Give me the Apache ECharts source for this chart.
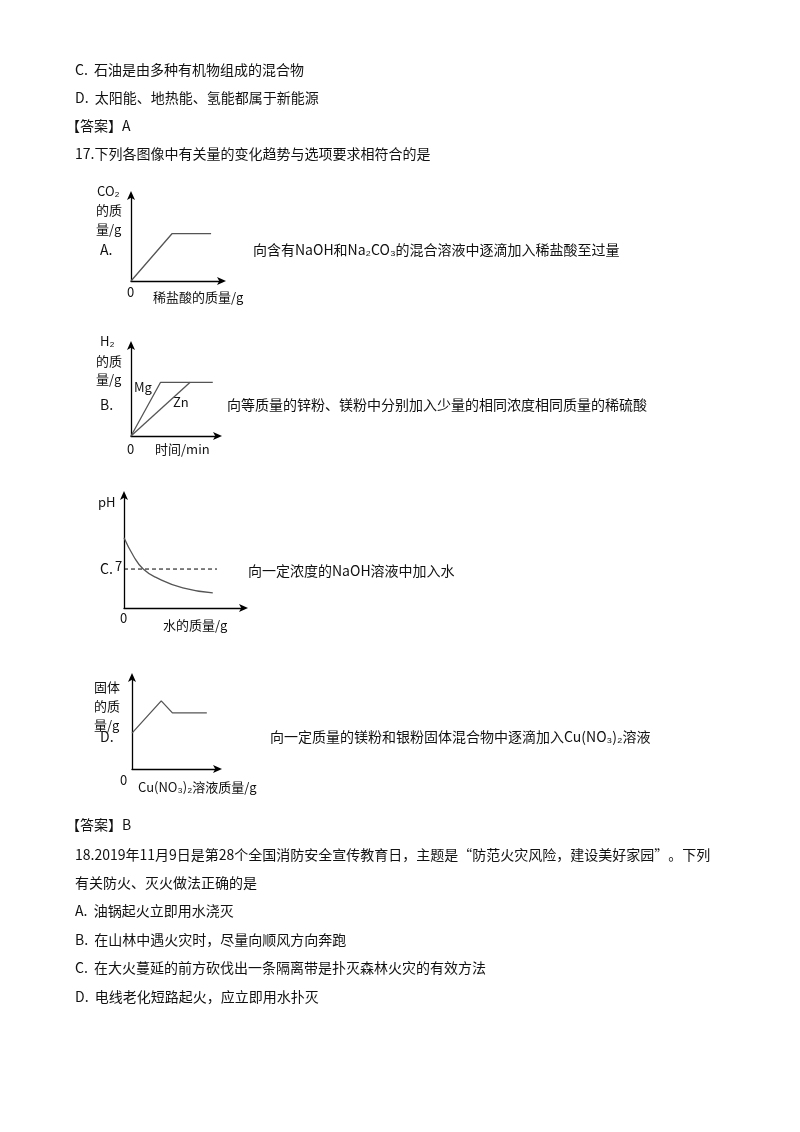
<!DOCTYPE html><html><head><meta charset="utf-8">
<script src="https://cdn.jsdelivr.net/npm/echarts@6/dist/echarts.min.js"></script>
<style>html,body{margin:0;background:#fff}#c{width:800px;height:1132px}</style></head><body><div id="c"></div>
<script>
const lineA=[[0,0],[4.5,5.5],[8.8,5.5]];
const lineMg=[[0,0],[3.4,5.9],[9.4,5.9]];
const lineZn=[[0,0],[6.8,5.9]];
const curvePH=[[0,12.6],[0.8,9.3],[1.6,7],[2.75,5.4],[4.9,3.6],[7.4,2.7]];
const linePH7=[[0,7],[7.75,7]];
const lineD=[[0,3.9],[3.4,7.4],[4.7,6.1],[8.7,6.1]];
const grids=[[131,195,91,86,10,10],[131,345,87,91,10,10],[124,495,120,113,10,20.3],[132,677,86,92,10,10]];
const texts=[
[75,73,'C.  石油是由多种有机物组成的混合物'],
[75,101,'D.  太阳能、地热能、氢能都属于新能源'],
[66,129,'【答案】A'],
[75,157,'17.下列各图像中有关量的变化趋势与选项要求相符合的是'],
[100,253,'A.'],[253,253,'向含有NaOH和Na₂CO₃的混合溶液中逐滴加入稀盐酸至过量'],
[100,408,'B.'],[227,408,'向等质量的锌粉、镁粉中分别加入少量的相同浓度相同质量的稀硫酸'],
[100,572,'C.'],[248,574,'向一定浓度的NaOH溶液中加入水'],
[100,740,'D.'],[270,740,'向一定质量的镁粉和银粉固体混合物中逐滴加入Cu(NO₃)₂溶液'],
[66,828,'【答案】B'],
[75,858,'18.2019年11月9日是第28个全国消防安全宣传教育日，主题是“防范火灾风险，建设美好家园”。下列'],
[75,886,'有关防火、灭火做法正确的是'],
[75,914,'A.  油锅起火立即用水浇灭'],
[75,943,'B.  在山林中遇火灾时，尽量向顺风方向奔跑'],
[75,971,'C.  在大火蔓延的前方砍伐出一条隔离带是扑灭森林火灾的有效方法'],
[75,1000,'D.  电线老化短路起火，应立即用水扑灭']];
const labels=[
[97,194,'CO₂'],[96,213,'的质'],[96,232,'量/g'],[127,295,'0'],[153,300,'稀盐酸的质量/g'],
[100,344,'H₂'],[96,364,'的质'],[96,382,'量/g'],[127,452,'0'],[155,452,'时间/min'],
[134,390,'Mg'],[173,405,'Zn'],
[98,505,'pH'],[115,569,'7'],[120,621,'0'],[163,628,'水的质量/g'],
[94,690,'固体'],[94,709,'的质'],[94,728,'量/g'],[120,783,'0'],[138,790,'Cu(NO₃)₂溶液质量/g']];
const font='"Noto Sans CJK SC", sans-serif';
const gr=[],xa=[],ya=[];
grids.forEach((g,i)=>{
 gr.push({left:g[0],top:g[1],width:g[2],height:g[3]});
 const ax={type:'value',gridIndex:i,min:0,splitLine:{show:false},axisTick:{show:false},axisLabel:{show:false},
  axisLine:{lineStyle:{color:'#000',width:1.3},symbol:['none','arrow'],symbolSize:[6,9],symbolOffset:[0,4]}};
 xa.push(Object.assign({},ax,{max:g[4]}));ya.push(Object.assign({},ax,{max:g[5]}));
});
const ls=(d,i,extra)=>Object.assign({type:'line',xAxisIndex:i,yAxisIndex:i,data:d,showSymbol:false,lineStyle:{color:'#555',width:1.3}},extra||{});
const series=[ls(lineA,0),ls(lineMg,1),ls(lineZn,1),ls(curvePH,2,{smooth:true}),
 ls(linePH7,2,{lineStyle:{color:'#000',width:1,type:[4,3]}}),ls(lineD,3)];
const graphic=texts.map(t=>({type:'text',left:t[0],top:t[1]-10,style:{text:t[2],font:'14px '+font,fill:'#111'}}))
 .concat(labels.map(t=>({type:'text',left:t[0],top:t[1]-9,style:{text:t[2],font:'13px '+font,fill:'#111'}})));
const ch=echarts.init(document.getElementById('c'));
ch.setOption({animation:false,grid:gr,xAxis:xa,yAxis:ya,series,graphic});
</script></body></html>
